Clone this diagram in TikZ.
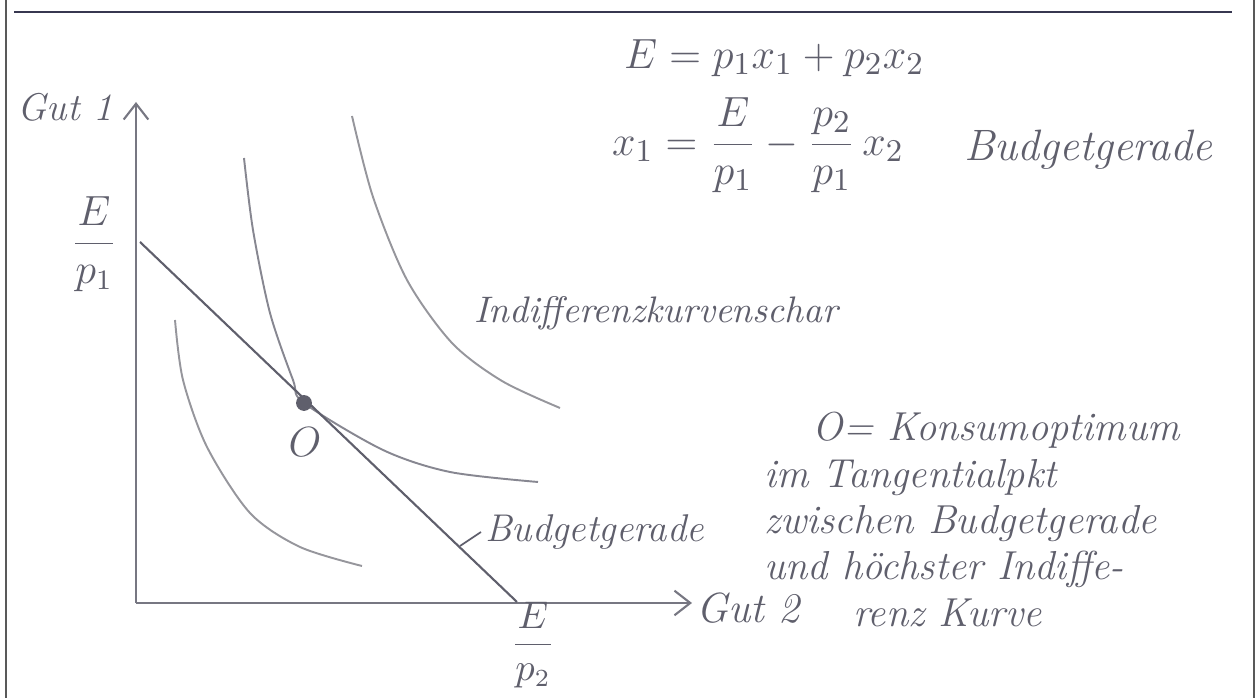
\documentclass[tikz,border=0pt]{standalone}
\usepackage{amsmath}
\usetikzlibrary{arrows.meta}
\definecolor{pencil}{RGB}{95,95,108}
\definecolor{softpencil}{RGB}{150,150,156}
\definecolor{frameline}{RGB}{55,55,80}
\tikzset{
  hand/.style={text=pencil, font=\itshape\fontsize{11}{13}\selectfont, inner sep=1pt},
  bighand/.style={hand, font=\itshape\fontsize{12.5}{15}\selectfont},
  notehand/.style={hand, font=\itshape\fontsize{11.5}{13.2}\selectfont, align=left},
  curve/.style={softpencil, line width=0.55pt},
  barb/.style={-{Straight Barb[length=4.5pt,width=7pt]}},
}
\begin{document}
\begin{tikzpicture}[x=0.01cm, y=-0.01cm]
  \useasboundingbox (0,0) rectangle (1257,698);
  % Frame
  \draw[black!65, line width=0.6pt] (6,0) -- (6,698);
  \draw[black!65, line width=0.6pt] (1254,0) -- (1254,698);
  \draw[frameline, line width=0.8pt] (14,12) -- (1232,12);
  % Axes
  \coordinate (origin) at (136,603);
  \coordinate (ytop) at (136,102);
  \coordinate (xend) at (692,603);
  \draw[pencil!85, line width=0.6pt, barb] (origin) -- (ytop);
  \draw[pencil!85, line width=0.6pt, barb] (origin) -- (xend);
  \node[hand] (good1) at (65,107) {Gut 1};
  \node[hand, font=\itshape\fontsize{12}{14}\selectfont] (good2) at (748,608) {Gut 2};
  \node[hand, font=\fontsize{12}{14}\selectfont] (ep1) at (94,244) {$\dfrac{E}{p_1}$};
  \node[hand, font=\fontsize{10.5}{12}\selectfont] (ep2) at (533,645) {$\dfrac{E}{p_2}$};
  % Indifference curves
  \draw[curve] plot[smooth] coordinates {(175,320) (183,380) (207,447) (250,513) (300,547) (362,566)};
  \draw[curve, pencil!75] plot[smooth] coordinates {(244,158) (253,230) (270,313) (293,380) (304,403) (383,450) (450,472) (538,482)};
  \draw[curve] plot[smooth] coordinates {(352,116) (373,197) (407,280) (452,343) (502,381) (560,408)};
  % Budget line
  \coordinate (bstart) at (140,242);
  \coordinate (bend) at (517,602);
  \draw[pencil, line width=0.6pt] (bstart) -- (bend);
  % Optimum
  \node[circle, fill=pencil, inner sep=0pt, minimum size=4.5pt] (opt) at (304,403) {};
  \node[hand, font=\fontsize{12}{14}\selectfont] (optlabel) at (305,442) {$O$};
  % Labels
  \node[hand, anchor=west] (budget) at (481,532) {Budgetgerade};
  \coordinate (tick) at (460,546);
  \draw[pencil, line width=0.5pt] (tick) -- (budget.west);
  \node[hand, anchor=west, font=\itshape\fontsize{10.5}{12}\selectfont] (family) at (470,313) {Indifferenzkurvenschar};
  % Formulas
  \node[bighand, anchor=west] (income) at (620,58) {$E = p_1x_1 + p_2x_2$};
  \node[bighand, anchor=west] (line) at (608,145) {$x_1 = \dfrac{E}{p_1} - \dfrac{p_2}{p_1}\,x_2$};
  \node[bighand, anchor=west] (linename) at (960,150) {Budgetgerade};
  % Explanation
  \node[notehand, anchor=north west] (note) at (760,408) {\hspace*{1.2em}O= Konsumoptimum\\
    im Tangentialpkt\\
    zwischen Budgetgerade\\
    und höchster Indiffe-\\
    \hspace*{2.2em}renz Kurve};
\end{tikzpicture}
\end{document}
